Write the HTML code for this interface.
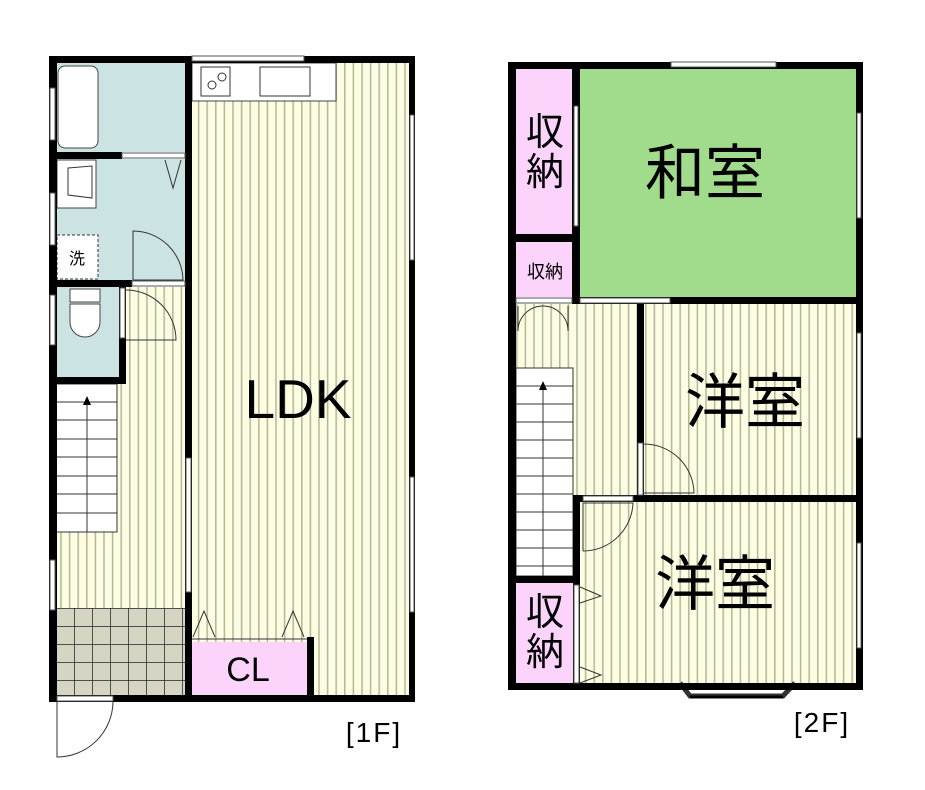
<!DOCTYPE html>
<html><head><meta charset="utf-8"><style>body{margin:0;background:#fff}svg{display:block}</style></head><body>
<svg width="925" height="790" viewBox="0 0 925 790" xmlns="http://www.w3.org/2000/svg" font-family="'Liberation Sans','Noto Sans CJK JP',sans-serif">
<defs>
<pattern id="st" width="8.6" height="10" patternUnits="userSpaceOnUse"><rect width="8.6" height="10" fill="#fdfde4"/><rect x="0" width="1.6" height="10" fill="#b9b99a"/></pattern>
<pattern id="tile" x="56" y="608" width="18" height="18" patternUnits="userSpaceOnUse"><rect width="18" height="18" fill="#d6d5c3"/><path d="M0 0H18M0 0V18" stroke="#222" stroke-width="1.5"/></pattern>
</defs>
<!-- 1F floors -->
<rect x="56" y="63" width="129" height="89" fill="#cce3e3"/>
<rect x="56" y="159" width="129" height="121" fill="#cce3e3"/>
<rect x="56" y="287" width="64" height="90" fill="#cce3e3"/>
<rect x="120" y="287" width="65" height="321" fill="url(#st)"/>
<rect x="56" y="384" width="64" height="224" fill="url(#st)"/>
<rect x="56" y="608" width="129" height="87" fill="url(#tile)"/>
<rect x="192" y="63" width="217" height="632" fill="url(#st)"/>
<rect x="192" y="642" width="115" height="53" fill="#fbd3fb"/>
<line x1="192" y1="639" x2="307" y2="639" stroke="#333"/>
<!-- kitchen -->
<rect x="192" y="63" width="144" height="38" fill="#fff" stroke="#444"/>
<rect x="201" y="67" width="29" height="29" fill="#fff" stroke="#333"/>
<circle cx="212" cy="85" r="4" fill="none" stroke="#333"/><circle cx="222" cy="77" r="4" fill="none" stroke="#333"/>
<rect x="260" y="67" width="50" height="29" fill="#fff" stroke="#333"/>
<!-- bath fixtures -->
<rect x="58" y="66" width="40" height="82" rx="7" fill="#fff" stroke="#444"/>
<rect x="57" y="160" width="39" height="48" fill="#fff" stroke="#444"/>
<path d="M68 168L92 166V198L68 195Z" fill="none" stroke="#333"/>
<rect x="57" y="235" width="41" height="44" fill="#fff" stroke="#333" stroke-dasharray="3,2"/>
<text x="77" y="264" font-size="16" text-anchor="middle">洗</text>
<rect x="70" y="289" width="30" height="13" fill="#fff" stroke="#444"/>
<path d="M70 304H100V322A15 15 0 0 1 70 322Z" fill="#fff" stroke="#444"/>
<!-- doors 1F -->
<path d="M165 160L173 188L181 160" fill="none" stroke="#333"/>
<path d="M133 231A50 50 0 0 1 183 280H133Z" fill="none" stroke="#333"/>
<path d="M126 290A50 50 0 0 1 176 340H126" fill="none" stroke="#333"/>
<path d="M57 702V757A56 56 0 0 0 113 702" fill="none" stroke="#333"/>
<path d="M193 637L204 611L215 637M282 637L293 611L304 637" fill="none" stroke="#333"/>
<!-- stairs 1F -->
<rect x="56" y="384" width="61" height="148" fill="#fff" stroke="#333"/>
<g stroke="#333"><line x1="56" y1="402" x2="117" y2="402"/><line x1="56" y1="420" x2="117" y2="420"/><line x1="56" y1="439" x2="117" y2="439"/><line x1="56" y1="457" x2="117" y2="457"/><line x1="56" y1="476" x2="117" y2="476"/><line x1="56" y1="494" x2="117" y2="494"/><line x1="56" y1="513" x2="117" y2="513"/><line x1="87" y1="400" x2="87" y2="532"/></g>
<path d="M83 405L87 396L91 405Z" fill="#000"/>
<!-- walls 1F -->
<g fill="#000">
<rect x="49" y="56" width="366" height="7"/>
<rect x="49" y="56" width="8" height="646"/>
<rect x="409" y="56" width="6" height="646"/>
<rect x="49" y="695" width="366" height="7"/>
<rect x="185" y="56" width="7" height="646"/>
<rect x="49" y="152" width="73" height="7"/>
<rect x="49" y="280" width="83" height="7"/>
<rect x="49" y="377" width="77" height="7"/>
<rect x="119" y="287" width="7" height="97"/>
<rect x="307" y="637" width="7" height="65"/>
</g>
<g fill="#fff" stroke="#555">
<rect x="122" y="153" width="63" height="5"/>
<rect x="132" y="281" width="53" height="5"/>
<rect x="120" y="288" width="5" height="50"/>
<rect x="192" y="56" width="112" height="5"/>
<rect x="410" y="115" width="4" height="145"/>
<rect x="410" y="477" width="4" height="135"/>
<rect x="186" y="458" width="5" height="134"/>
<rect x="50" y="88" width="5" height="52"/>
<rect x="50" y="193" width="5" height="52"/>
<rect x="50" y="295" width="5" height="50"/>
<rect x="50" y="560" width="5" height="50"/>
<rect x="57" y="696" width="56" height="5"/>
</g>
<text x="298" y="418" font-size="55" text-anchor="middle">LDK</text>
<text x="248" y="681" font-size="34" text-anchor="middle">CL</text>
<text x="374" y="742" font-size="28" text-anchor="middle" letter-spacing="2">[1F]</text>

<!-- 2F floors -->
<rect x="516" y="69" width="57" height="166" fill="#fbd3fb"/>
<rect x="516" y="242" width="57" height="55" fill="#fbd3fb"/>
<rect x="580" y="69" width="276" height="228" fill="#a0dc8c"/>
<rect x="516" y="304" width="121" height="272" fill="url(#st)"/>
<rect x="644" y="304" width="212" height="191" fill="url(#st)"/>
<rect x="580" y="502" width="276" height="181" fill="url(#st)"/>
<rect x="516" y="583" width="57" height="100" fill="#fbd3fb"/>
<rect x="516" y="368" width="57" height="208" fill="#fff" stroke="#333"/>
<g stroke="#333"><line x1="516" y1="386" x2="573" y2="386"/><line x1="516" y1="404" x2="573" y2="404"/><line x1="516" y1="422" x2="573" y2="422"/><line x1="516" y1="440" x2="573" y2="440"/><line x1="516" y1="458" x2="573" y2="458"/><line x1="516" y1="476" x2="573" y2="476"/><line x1="516" y1="494" x2="573" y2="494"/><line x1="516" y1="512" x2="573" y2="512"/><line x1="516" y1="530" x2="573" y2="530"/><line x1="516" y1="548" x2="573" y2="548"/><line x1="516" y1="566" x2="573" y2="566"/><line x1="543" y1="386" x2="543" y2="576"/></g>
<path d="M539 390L543 381L547 390Z" fill="#000"/>
<path d="M518 331A25 25 0 0 1 543 306M568 331A25 25 0 0 0 543 306M518 306V331M568 306V331" fill="none" stroke="#333"/>
<path d="M644 444A50 50 0 0 1 694 493H644" fill="none" stroke="#333"/>
<path d="M583 551V503H633A50 50 0 0 1 583 551" fill="none" stroke="#333"/>
<path d="M580 587L601 596L580 603M580 667L601 675L580 683" fill="none" stroke="#333"/>
<path d="M680 683L690 696H783L795 683" fill="#fff" stroke="#333" stroke-width="5"/>
<line x1="690" y1="697" x2="783" y2="697" stroke="#000" stroke-width="3"/>
<g fill="#000">
<rect x="508" y="62" width="355" height="7"/>
<rect x="508" y="62" width="8" height="628"/>
<rect x="856" y="62" width="7" height="628"/>
<rect x="508" y="683" width="355" height="7"/>
<rect x="572" y="62" width="8" height="242"/>
<rect x="508" y="234" width="70" height="8"/>
<rect x="573" y="297" width="290" height="7"/>
<rect x="637" y="297" width="7" height="198"/>
<rect x="573" y="495" width="290" height="7"/>
<rect x="573" y="495" width="7" height="195"/>
<rect x="508" y="576" width="72" height="7"/>
</g>
<g fill="#fff" stroke="#555">
<rect x="671" y="62" width="105" height="5"/>
<rect x="857" y="113" width="4" height="105"/>
<rect x="857" y="333" width="4" height="105"/>
<rect x="857" y="543" width="4" height="105"/>
<rect x="574" y="106" width="4" height="120"/>
<rect x="580" y="298" width="90" height="5"/>
<rect x="516" y="298" width="56" height="5"/>
<rect x="638" y="443" width="5" height="52"/>
<rect x="583" y="496" width="50" height="5"/>
<rect x="574" y="585" width="5" height="98"/>
</g>
<text x="545" y="145" font-size="38" text-anchor="middle">収</text>
<text x="545" y="185" font-size="38" text-anchor="middle">納</text>
<text x="545" y="278" font-size="18" text-anchor="middle">収納</text>
<text x="705" y="194" font-size="60" text-anchor="middle">和室</text>
<text x="745" y="423" font-size="60" text-anchor="middle">洋室</text>
<text x="715" y="605" font-size="60" text-anchor="middle">洋室</text>
<text x="545" y="625" font-size="38" text-anchor="middle">収</text>
<text x="545" y="665" font-size="38" text-anchor="middle">納</text>
<text x="822" y="732" font-size="28" text-anchor="middle" letter-spacing="2">[2F]</text>
</svg>
</body></html>
